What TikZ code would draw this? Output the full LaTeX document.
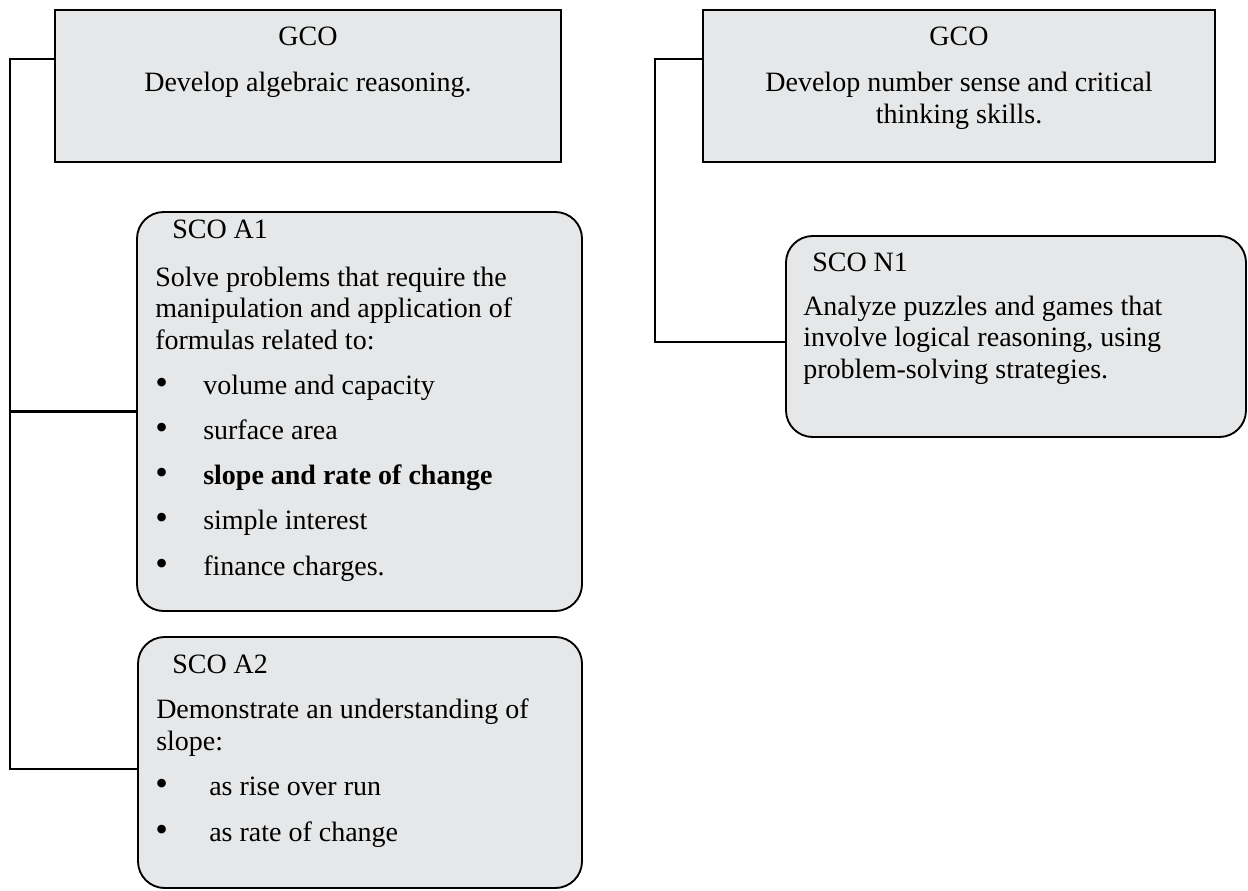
\documentclass[tikz,border=0pt]{standalone}
\usepackage{fontspec}
\setmainfont{Liberation Serif}
\usetikzlibrary{fit}
\definecolor{boxgray}{RGB}{230,231,232}
\newcommand{\itembul}[1]{\makebox[#1][l]{\fontsize{27}{27}\selectfont\textbullet}}

\begin{document}
\begin{tikzpicture}[x=.75pt, y=-.75pt,
		gco/.style={draw=black, line width=1.4pt, fill=boxgray, inner sep=0pt},
		sco/.style={gco, rounded corners=20pt},
		link/.style={line width=1.6pt},
		txt/.style={anchor=base west, inner sep=0pt, align=left, font={\fontsize{21}{23.6}\selectfont}},
		ctr/.style={txt, anchor=base, align=center},
		lst/.style={txt, font={\fontsize{21}{33.9}\selectfont}}]
		\useasboundingbox (0,0) rectangle (1248,890);
		
		\node[gco, fit={(55,10) (561,162)}] (gcoA) {};
		\node[gco, fit={(703,10) (1215,162)}] (gcoN) {};
		\node[sco, fit={(137,212) (582,611)}] (scoA1) {};
		\node[sco, fit={(138,637) (582,888)}] (scoA2) {};
		\node[sco, fit={(786,236) (1246,437)}] (scoN1) {};
		
		% multi-line nodes sit on the baseline of their last line
		\node[ctr] (gcoAhead) at (308,45) {GCO};
		\node[ctr] (gcoAtext) at (308,91) {Develop algebraic reasoning.};
		
		\node[ctr] (gcoNhead) at (959,45) {GCO};
		\node[ctr] (gcoNtext) at (959,123) {Develop number sense and critical\\thinking skills.};
		
		\node[txt] (a1head) at (172,238) {SCO A1};
		\node[txt] (a1text) at (155,349) {Solve problems that require the\\manipulation and application of\\formulas related to:};
		\node[lst] (a1list) at (155,575) {\itembul{36pt}volume and capacity\\
			\itembul{36pt}surface area\\
			\itembul{36pt}\textbf{slope and rate of change}\\
			\itembul{36pt}simple interest\\
			\itembul{36pt}finance charges.};
		
		\node[txt] (a2head) at (172,673) {SCO A2};
		\node[txt] (a2text) at (156,750) {Demonstrate an understanding of\\slope:};
		\node[lst, font={\fontsize{21}{34.5}\selectfont}] (a2list) at (155,841) {\itembul{40.5pt}as rise over run\\
			\itembul{40.5pt}as rate of change};
		
		\node[txt] (n1head) at (812,271) {SCO N1};
		\node[txt] (n1text) at (803,378) {Analyze puzzles and games that\\involve logical reasoning, using\\problem-solving strategies.};
		
		\coordinate (spineA) at (10,59);
		\coordinate (spineN) at (655,59);
		\draw[link] (gcoA.west |- spineA) -- (spineA) |- ([yshift=-5pt]scoA2.west);
		\draw[link] (spineA |- scoA1.west) -- (scoA1.west);
		\draw[link] (gcoN.west |- spineN) -- (spineN) |- ([yshift=-4pt]scoN1.west);
		
	\end{tikzpicture}
\end{document}
